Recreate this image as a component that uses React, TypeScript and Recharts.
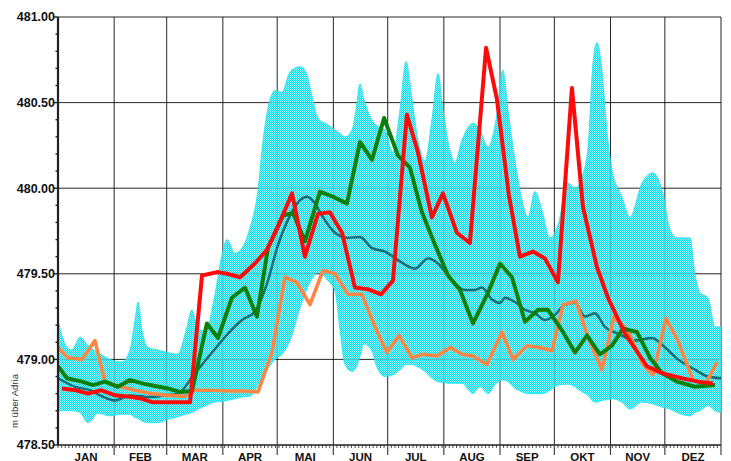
import React from 'react';
import { ComposedChart, Area, Line, XAxis, YAxis, CartesianGrid } from 'recharts';

const FONT = '"Liberation Sans", Arial, Helvetica, sans-serif';

const MONTHS = ['JAN', 'FEB', 'MAR', 'APR', 'MAI', 'JUN', 'JUL', 'AUG', 'SEP', 'OKT', 'NOV', 'DEZ'];
const MONTH_ENDS = [31, 60, 91, 121, 152, 182, 213, 244, 274, 305, 335, 366];
const Y_LABEL = 'm über Adria';
const Y_GRID = [479, 479.5, 480, 480.5, 481];

// min / max band
const bandDays = [0, 4.4, 7.7, 12.1, 16.6, 22.1, 28.7, 35.3, 39.7, 42.5, 44.2, 46.4, 49.7, 55.2, 60.7, 66.2, 70.7, 74.0, 77.3, 81.7, 86.1, 90.5, 93.3, 97.7, 101.6, 106.0, 110.4, 113.2, 115.4, 119.8, 123.6, 128.1, 133.6, 136.9, 140.2, 143.5, 149.0, 152.9, 155.7, 158.4, 162.3, 164.5, 166.7, 168.9, 173.3, 175.5, 180.5, 184.9, 188.8, 192.1, 195.4, 198.7, 202.6, 206.4, 209.8, 212.5, 216.4, 219.1, 223.0, 229.1, 232.9, 237.4, 241.8, 245.6, 248.4, 252.3, 256.2, 259.4, 263.3, 267.2, 271.6, 276.0, 281.5, 285.4, 289.2, 292.6, 295.3, 297.5, 300.3, 303.0, 305.8, 311.3, 315.7, 322.4, 328.4, 333.9, 337.8, 341.7, 348.9, 351.6, 354.4, 358.8, 362.7, 366];
const bandHigh = [479.23, 479.08, 479.055, 479.13, 479.08, 479.04, 479.00, 478.985, 479.055, 479.23, 479.335, 479.17, 479.07, 479.055, 479.04, 479.03, 479.17, 479.29, 479.17, 479.17, 479.35, 479.61, 479.70, 479.62, 479.65, 479.77, 479.99, 480.28, 480.44, 480.57, 480.56, 480.68, 480.71, 480.68, 480.54, 480.41, 480.37, 480.34, 480.32, 480.30, 480.34, 480.46, 480.61, 480.52, 480.40, 480.37, 480.34, 480.21, 480.46, 480.74, 480.52, 480.28, 480.16, 480.40, 480.67, 480.46, 480.22, 480.15, 480.28, 480.38, 480.34, 480.24, 480.40, 480.69, 480.46, 480.16, 479.93, 479.83, 479.98, 479.87, 479.71, 479.785, 480.03, 480.00, 480.065, 480.24, 480.73, 480.85, 480.69, 480.34, 480.11, 479.95, 479.83, 480.03, 480.09, 479.97, 479.76, 479.71, 479.71, 479.50, 479.39, 479.36, 479.19, 479.19];
const bandLow = [478.70, 478.70, 478.70, 478.69, 478.63, 478.685, 478.67, 478.68, 478.68, 478.66, 478.655, 478.64, 478.63, 478.63, 478.65, 478.665, 478.68, 478.69, 478.71, 478.73, 478.75, 478.755, 478.76, 478.77, 478.78, 478.785, 478.85, 478.91, 478.94, 479.00, 479.03, 479.11, 479.30, 479.40, 479.47, 479.51, 479.46, 479.40, 479.17, 478.97, 478.93, 478.95, 479.02, 479.09, 479.05, 478.97, 478.90, 478.91, 478.94, 478.97, 478.97, 478.955, 478.93, 478.89, 478.87, 478.865, 478.86, 478.86, 478.86, 478.80, 478.84, 478.80, 478.86, 478.88, 478.87, 478.83, 478.81, 478.80, 478.80, 478.80, 478.82, 478.85, 478.855, 478.84, 478.81, 478.79, 478.755, 478.75, 478.76, 478.765, 478.77, 478.75, 478.71, 478.75, 478.74, 478.72, 478.71, 478.69, 478.67, 478.69, 478.70, 478.73, 478.70, 478.69];

// mean
const meanDays = [0, 9.4, 17.7, 23.2, 31.5, 39.7, 50.8, 59.1, 66.2, 75.6, 85.0, 93.8, 101.6, 108.7, 115.9, 120.9, 128.1, 133.6, 137.4, 141.9, 145.7, 152.9, 160.1, 166.7, 173.3, 180.5, 187.7, 197.1, 204.2, 209.8, 217.5, 224.7, 230.2, 234.0, 239.6, 244.0, 246.7, 252.3, 257.8, 263.3, 268.8, 274.3, 279.9, 285.4, 290.9, 296.4, 301.9, 309.1, 318.5, 327.9, 335.1, 342.2, 351.6, 358.8, 366];
const meanLevels = [478.89, 478.84, 478.82, 478.79, 478.76, 478.79, 478.78, 478.79, 478.80, 478.92, 479.04, 479.15, 479.23, 479.28, 479.46, 479.65, 479.84, 479.93, 479.95, 479.91, 479.84, 479.74, 479.71, 479.715, 479.65, 479.63, 479.58, 479.53, 479.59, 479.56, 479.46, 479.405, 479.405, 479.42, 479.35, 479.33, 479.36, 479.335, 479.29, 479.27, 479.23, 479.26, 479.32, 479.33, 479.25, 479.27, 479.19, 479.15, 479.11, 479.125, 479.07, 479.00, 478.94, 478.90, 478.89];

// red series
const redDays = [2.2, 9.9, 16.6, 23.7, 31.5, 40.8, 46.4, 51.9, 60.7, 72.9, 79.5, 87.8, 93.3, 100.5, 108.7, 115.3, 122.0, 129.2, 136.3, 143.5, 150.1, 156.8, 163.9, 171.1, 178.3, 184.9, 192.6, 198.7, 206.4, 212.5, 220.2, 227.4, 236.3, 242.3, 248.9, 255.0, 262.2, 268.8, 276.0, 283.7, 289.8, 297.5, 303.6, 313.0, 325.1, 333.4, 344.4, 353.3, 361.6];
const redLevels = [478.83, 478.82, 478.80, 478.82, 478.79, 478.78, 478.77, 478.75, 478.75, 478.75, 479.49, 479.51, 479.50, 479.48, 479.56, 479.64, 479.79, 479.97, 479.60, 479.85, 479.86, 479.74, 479.42, 479.41, 479.38, 479.46, 480.43, 480.21, 479.83, 479.97, 479.74, 479.68, 480.82, 480.52, 479.96, 479.60, 479.63, 479.59, 479.45, 480.585, 479.89, 479.54, 479.36, 479.15, 478.96, 478.92, 478.89, 478.87, 478.86];

// green series
const greenDays = [0, 5.0, 13.2, 19.3, 25.9, 33.1, 39.7, 46.4, 53.5, 60.7, 67.3, 74.0, 82.2, 88.3, 96.0, 103.2, 109.8, 115.9, 124.2, 129.7, 136.3, 144.6, 151.8, 159.5, 166.7, 173.3, 180.0, 187.7, 194.3, 200.9, 208.1, 215.3, 221.9, 229.1, 237.4, 244.0, 250.6, 257.8, 265.0, 270.5, 278.2, 285.4, 292.0, 299.2, 305.8, 311.9, 319.6, 326.8, 333.4, 341.7, 351.6, 362.7];
const greenLevels = [478.96, 478.89, 478.87, 478.85, 478.87, 478.84, 478.88, 478.86, 478.845, 478.83, 478.81, 478.815, 479.21, 479.125, 479.36, 479.42, 479.25, 479.65, 479.84, 479.855, 479.69, 479.98, 479.95, 479.91, 480.27, 480.165, 480.41, 480.19, 480.12, 479.86, 479.67, 479.49, 479.405, 479.21, 479.39, 479.56, 479.48, 479.22, 479.29, 479.29, 479.17, 479.04, 479.14, 479.03, 479.08, 479.18, 479.16, 479.01, 478.92, 478.87, 478.84, 478.85];

// orange series
const orangeDays = [0, 5.5, 13.2, 20.4, 25.9, 33.1, 42.5, 51.9, 60.7, 70.1, 75.6, 83.9, 94.9, 103.2, 110.4, 118.1, 125.3, 131.9, 139.1, 146.3, 152.9, 160.1, 167.8, 175.0, 181.6, 188.2, 195.4, 201.5, 209.2, 216.4, 223.0, 229.1, 236.8, 245.1, 251.2, 258.9, 266.1, 272.7, 278.8, 285.9, 292.6, 300.3, 306.9, 314.6, 322.9, 328.4, 335.6, 342.2, 350.5, 357.7, 363.8];
const orangeLevels = [479.07, 479.01, 479.00, 479.11, 478.87, 478.845, 478.82, 478.80, 478.79, 478.785, 478.82, 478.82, 478.815, 478.815, 478.81, 479.04, 479.48, 479.45, 479.32, 479.52, 479.50, 479.38, 479.38, 479.19, 479.04, 479.14, 479.01, 479.03, 479.02, 479.07, 479.03, 479.02, 478.97, 479.16, 479.00, 479.08, 479.07, 479.05, 479.32, 479.34, 479.13, 478.94, 479.25, 479.17, 478.97, 478.91, 479.24, 479.11, 478.88, 478.86, 478.985];

const toPoints = (days: number[], levels: number[]) => days.map((day, i) => ({ day, v: levels[i] }));
const bandData = bandDays.map((day, i) => ({ day, range: [bandLow[i], bandHigh[i]] }));
const meanData = toPoints(meanDays, meanLevels);
const redData = toPoints(redDays, redLevels);
const greenData = toPoints(greenDays, greenLevels);
const orangeData = toPoints(orangeDays, orangeLevels);

const monthStarts = [0, ...MONTH_ENDS.slice(0, -1)];
const monthMids = MONTH_ENDS.map((e, i) => (monthStarts[i] + e) / 2);
const minorX: number[] = [];
for (let d = 0; d <= 366; d += 2) minorX.push(d);
const xTicks = Array.from(new Set([...minorX, ...MONTH_ENDS, ...monthMids])).sort((a, b) => a - b);

const yTicks: number[] = [];
for (let i = 0; i <= 25; i++) yTicks.push(Math.round((478.5 + i * 0.1) * 10) / 10);

const XTick = (props: any) => {
  const { x, y, payload } = props;
  const v = payload.value;
  const endIdx = MONTH_ENDS.indexOf(v);
  const midIdx = monthMids.indexOf(v);
  return (
    <g>
      {endIdx >= 0 ? (
        <line x1={x} x2={x} y1={y} y2={y + 10} stroke="#444" strokeWidth={1.2} />
      ) : minorX.indexOf(v) >= 0 ? (
        <line x1={x} x2={x} y1={y} y2={y + 3} stroke="#222" strokeWidth={0.8} />
      ) : null}
      {midIdx >= 0 ? (
        <text x={x} y={y + 15.5} textAnchor="middle" fontFamily={FONT} fontWeight="bold" fontSize={11.5} fill="#111">
          {MONTHS[midIdx]}
        </text>
      ) : null}
    </g>
  );
};

const YTick = (props: any) => {
  const { x, y, payload } = props;
  const v = payload.value;
  const major = Math.abs(v * 2 - Math.round(v * 2)) < 1e-6;
  return (
    <g>
      <line x1={x - (major ? 4 : 2.5)} x2={x} y1={y} y2={y} stroke="#222" strokeWidth={1.4} />
      {major ? (
        <text x={x - 3} y={y} dy={4.4} textAnchor="end" fontFamily={FONT} fontWeight="bold" fontSize={12.5} fill="#111">
          {v.toFixed(2)}
        </text>
      ) : null}
    </g>
  );
};

export default function App() {
  return (
    <div style={{ position: 'absolute', left: 0, top: 0, width: 731, height: 461, background: '#fff' }}>
      <ComposedChart width={731} height={461} margin={{ top: 17, right: 10, bottom: 0, left: 0 }}>
        <defs>
          <pattern id="bandDots" x="0" y="0" width="2" height="2" patternUnits="userSpaceOnUse">
            <rect x="0" y="0" width="2" height="2" fill="#80eff5" fillOpacity={0.7} />
            <rect x="0" y="0" width="1" height="1" fill="#00e0eb" />
            <rect x="1" y="1" width="1" height="1" fill="#00e0eb" />
          </pattern>
        </defs>
        <CartesianGrid
          horizontalValues={Y_GRID}
          verticalValues={MONTH_ENDS}
          stroke="#000"
          strokeWidth={1}
          strokeOpacity={0.85}
        />
        <XAxis
          type="number"
          dataKey="day"
          domain={[0, 366]}
          allowDataOverflow
          ticks={xTicks}
          interval={0}
          tick={<XTick />}
          tickLine={false}
          tickSize={0}
          tickMargin={0}
          height={16}
          axisLine={{ stroke: '#222', strokeWidth: 1.5 }}
        />
        <YAxis
          type="number"
          domain={[478.5, 481]}
          allowDataOverflow
          ticks={yTicks}
          interval={0}
          tick={<YTick />}
          tickLine={false}
          tickSize={0}
          tickMargin={0}
          width={58}
          axisLine={{ stroke: '#222', strokeWidth: 2.2 }}
        />
        <Area
          data={bandData}
          dataKey="range"
          type="monotone"
          fill="url(#bandDots)"
          fillOpacity={1}
          stroke="#1ee3ec"
          strokeWidth={0.8}
          isAnimationActive={false}
          activeDot={false}
        />
        <Line data={meanData} dataKey="v" type="monotone" stroke="#0a5a61" strokeWidth={2.4} dot={false} activeDot={false} isAnimationActive={false} />
        <Line data={meanData} dataKey="v" type="monotone" stroke="#3fc9d2" strokeWidth={0.7} strokeDasharray="1 1" dot={false} activeDot={false} isAnimationActive={false} />
        <Line data={orangeData} dataKey="v" type="linear" stroke="#ff8545" strokeWidth={3.6} strokeLinejoin="round" dot={false} activeDot={false} isAnimationActive={false} />
        <Line data={greenData} dataKey="v" type="linear" stroke="#0a7f0a" strokeWidth={4} strokeLinejoin="round" dot={false} activeDot={false} isAnimationActive={false} />
        <Line data={redData} dataKey="v" type="linear" stroke="#ff0a0a" strokeWidth={4} strokeLinejoin="round" dot={false} activeDot={false} isAnimationActive={false} />
      </ComposedChart>
      <div
        style={{
          position: 'absolute',
          left: -30,
          top: 395,
          width: 90,
          height: 12,
          lineHeight: '12px',
          textAlign: 'center',
          fontFamily: FONT,
          fontSize: 9.5,
          color: '#333',
          transform: 'rotate(-90deg)',
          transformOrigin: '45px 6px',
          whiteSpace: 'nowrap',
        }}
      >
        {Y_LABEL}
      </div>
    </div>
  );
}
